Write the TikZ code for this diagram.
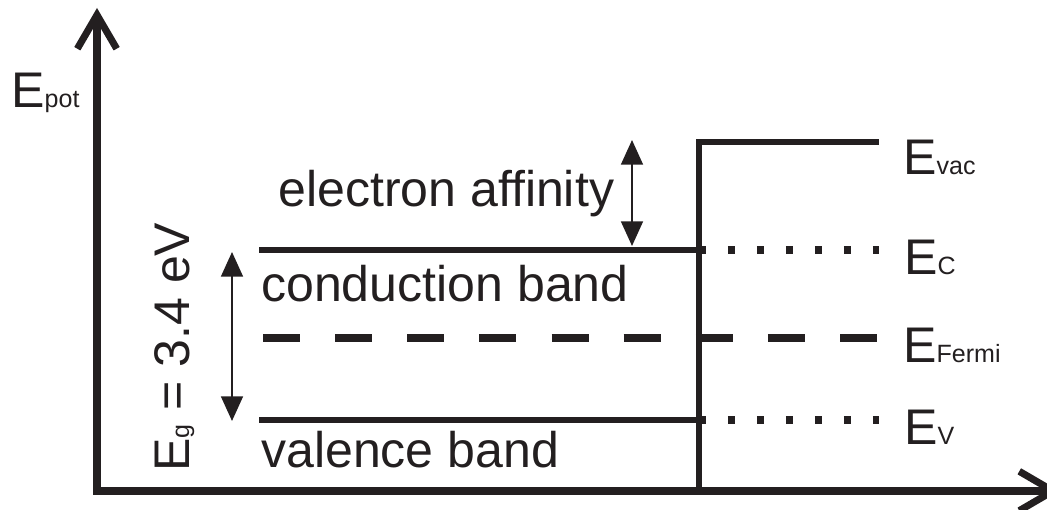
\documentclass[tikz,border=0pt]{standalone}
\usepackage{fontspec}
\setmainfont{Liberation Sans}
\usepackage{xcolor}
\usepackage{tikz}
\usetikzlibrary{arrows.meta}

\definecolor{ink}{RGB}{35,31,32}
\newcommand{\subtxt}[1]{{\fontsize{17.8pt}{20pt}\selectfont #1}}

\begin{document}
\begin{tikzpicture}[
        x=0.025cm, y=-0.025cm,
        axis/.style = {draw=ink, line width=5pt, -{Straight Barb[length=24pt, width=28pt]}},
        band/.style = {draw=ink, line width=4.8pt},
        fermi/.style = {draw=ink, line width=6pt, dash pattern=on 26.3pt off 25pt},
        level/.style = {draw=ink, line width=5pt, dash pattern=on 5pt off 15.6pt},
        gaparrow/.style = {draw=ink, line width=1.5pt, {Triangle[length=17.5pt, width=15.5pt]}-{Triangle[length=17.5pt, width=15.5pt]}},
        lbl/.style = {text=ink, inner sep=0pt, anchor=base west, font=\fontsize{35.6pt}{40pt}\selectfont}
    ]
    \useasboundingbox (0,0) rectangle (1047,510);

    % axes
    \coordinate (origin) at (97,491);
    \coordinate (ytop) at (97,8);
    \coordinate (xend) at (1060,491);
    \draw[axis] (origin) -- (ytop);
    \draw[axis] ([xshift=-2.5pt]origin) -- (xend);

    % surface step up to the vacuum level
    \coordinate (sbot) at (699,491);
    \coordinate (stop) at (699,142);
    \coordinate (vac) at (879,142);
    \draw[band, line join=miter] (sbot) -- (stop) -- (vac);

    % band edges inside the crystal
    \coordinate (cb) at (259,250);
    \coordinate (cbs) at (699,250);
    \coordinate (cbr) at (879,250);
    \coordinate (vb) at (259,420);
    \coordinate (vbs) at (699,420);
    \coordinate (vbr) at (879,420);
    \draw[band] (cb) -- (cbs);
    \draw[band] (vb) -- (vbs);

    % continued outside as dotted levels
    \draw[level] (cbs) -- (cbr);
    \draw[level] (vbs) -- (vbr);

    % Fermi level
    \coordinate (ef) at (263,338);
    \coordinate (efr) at (879,338);
    \draw[fermi] (ef) -- (efr);

    % energy differences
    \coordinate (chitop) at (632,140);
    \coordinate (chibot) at (632,246);
    \draw[gaparrow] (chitop) -- (chibot);
    \coordinate (egtop) at (232,252);
    \coordinate (egbot) at (232,421);
    \draw[gaparrow] (egtop) -- (egbot);

    % labels
    \node[lbl] (epot) at (11,108) {E\subtxt{pot}};
    \node[lbl] (evac) at (903,175) {E\subtxt{vac}};
    \node[lbl] (ec) at (904,275) {E\subtxt{C}};
    \node[lbl] (efermi) at (903,363) {E\subtxt{Fermi}};
    \node[lbl] (ev) at (904,445) {E\subtxt{V}};
    \node[lbl] (affinity) at (278,207) {electron affinity};
    \node[lbl] (condband) at (261,302) {conduction band};
    \node[lbl] (valband) at (261,468) {valence band};
    \node[lbl, rotate=90] (gap) at (189,472) {E\subtxt{g} = 3.4 eV};

\end{tikzpicture}
\end{document}
